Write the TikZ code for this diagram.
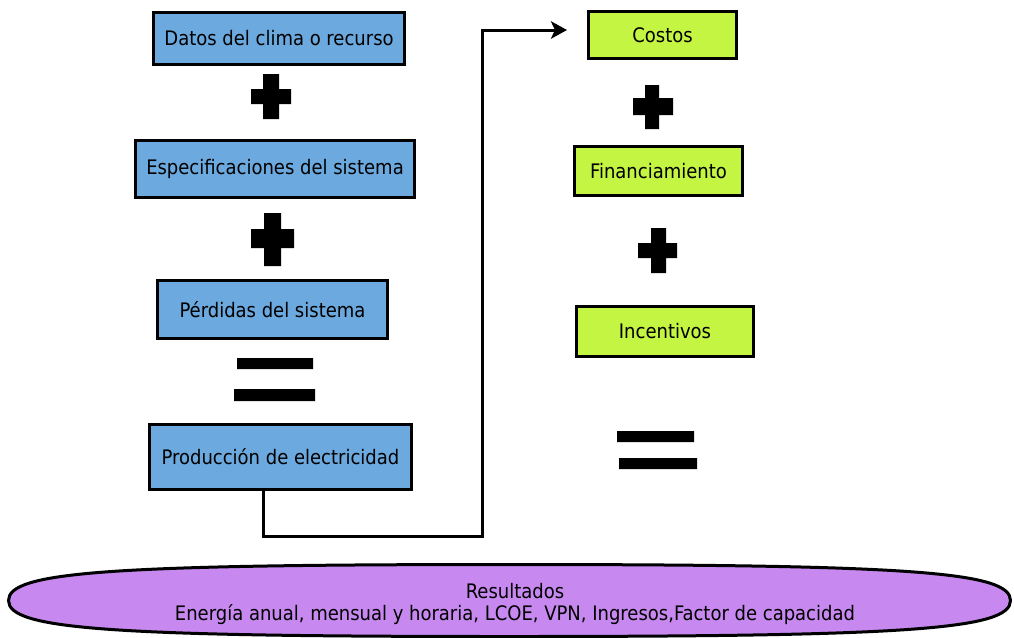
\documentclass[tikz,border=0pt]{standalone}
\usepackage{fontspec}
\setmainfont{DejaVu Sans Condensed}
\usetikzlibrary{arrows.meta}
\definecolor{boxblue}{RGB}{108,169,223}
\definecolor{boxgreen}{RGB}{196,245,66}
\definecolor{respurple}{RGB}{199,137,239}
\tikzset{
  bluebox/.style={draw=black, line width=2.25pt, fill=boxblue, inner sep=0pt, font=\fontsize{15pt}{18pt}\selectfont},
  greenbox/.style={draw=black, line width=2.25pt, fill=boxgreen, inner sep=0pt, font=\fontsize{15pt}{18pt}\selectfont},
  resshape/.style={draw=black, line width=2.25pt, fill=respurple},
  restext/.style={inner sep=0pt, align=center, font=\fontsize{15pt}{16pt}\selectfont},
  link/.style={line width=2.25pt, -{Stealth[length=12pt,width=13pt,inset=3pt]}},
  symb/.style={fill=black}
}
\begin{document}
\begin{tikzpicture}[x=0.75pt,y=-0.75pt]
\useasboundingbox (0,0) rectangle (1014,637);
% left column
\node[bluebox, minimum width=188.25pt, minimum height=39pt] (datos) at (279,38.5) {Datos del clima o recurso};
\node[bluebox, minimum width=209.25pt, minimum height=42.75pt] (espec) at (275,169) {Especificaciones del sistema};
\node[bluebox, minimum width=172.5pt, minimum height=43.5pt] (perd) at (272.5,309.5) {Pérdidas del sistema};
\node[bluebox, minimum width=196.5pt, minimum height=48.75pt] (prod) at (280.5,457) {Producción de electricidad};
% right column
\node[greenbox, minimum width=111pt, minimum height=35.25pt] (costos) at (662.5,35) {Costos};
\node[greenbox, minimum width=126pt, minimum height=36.75pt] (fin) at (658.5,171) {Financiamiento};
\node[greenbox, minimum width=132.75pt, minimum height=37.5pt] (inc) at (665,331.5) {Incentivos};
% results
\draw[resshape] (8.5,600.5) .. controls (8.5,571.7) and (108.7,564.5) .. (509.5,564.5)
  .. controls (910.3,564.5) and (1010.5,571.7) .. (1010.5,600.5)
  .. controls (1010.5,629.3) and (910.3,636.5) .. (509.5,636.5)
  .. controls (108.7,636.5) and (8.5,629.3) .. cycle;
\node[restext] (res) at (515,604) {Resultados\\Energía anual, mensual y horaria, LCOE, VPN, Ingresos,Factor de capacidad};
% plus signs
\fill[symb] (251,89) rectangle (291,104) (263,74) rectangle (279,119);
\fill[symb] (251,229) rectangle (294,248) (264,213) rectangle (281,266);
\fill[symb] (633,98) rectangle (673,115) (645,85) rectangle (659,129);
\fill[symb] (638,243) rectangle (677,258) (651,228) rectangle (666,273);
% equals signs
\fill[symb] (237,358) rectangle (313,369) (234,389) rectangle (315,401);
\fill[symb] (617,431) rectangle (694,442) (619,458) rectangle (697,469);
% connector
\coordinate (tip) at (567,30);
\draw[link] ([xshift=-12.4pt]prod.south) |- (482,536) |- (tip);
\end{tikzpicture}
\end{document}
